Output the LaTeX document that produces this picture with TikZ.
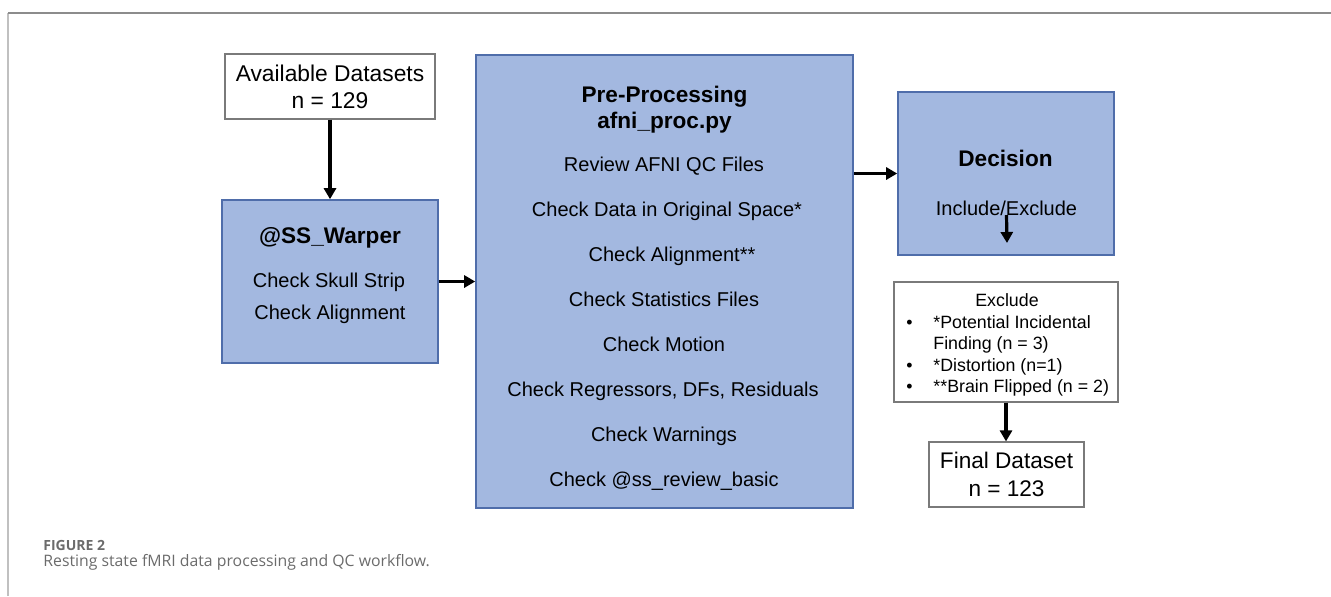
\documentclass[tikz,border=0pt]{standalone}
\usepackage{fontspec}
\setmainfont{Liberation Sans}
\newfontfamily\capfont{Open Sans}
\usepackage{tikz}
\usetikzlibrary{arrows.meta,positioning}
\definecolor{boxfill}{HTML}{A3B8E0}
\definecolor{boxline}{HTML}{4F6DAA}
\definecolor{boxgray}{HTML}{7A7A7A}
\definecolor{framegray}{HTML}{8C8C8C}
\definecolor{capgray}{HTML}{6B6B6B}

\begin{document}
\begin{tikzpicture}[x=0.5pt,y=-0.5pt,bluebox/.style={draw=boxline,fill=boxfill,line width=0.8pt,inner sep=0pt},whitebox/.style={draw=boxgray,fill=white,line width=0.6pt,inner sep=0pt,align=center},heading/.style={anchor=base,inner sep=0pt,font=\bfseries\fontsize{11.3}{13}\selectfont},check/.style={anchor=base,inner sep=0pt,font=\fontsize{10}{12}\selectfont},exclfont/.style={inner sep=0pt,font=\fontsize{8.9}{10.75}\selectfont},flow/.style={-{Triangle[length=5.5pt,width=6pt]},line width=1.6pt}]
\useasboundingbox (0,0) rectangle (1331,596);
\draw[framegray!55,line width=0.8pt] (8,596) -- (8,13);
\draw[framegray,line width=0.8pt] (8,13) -- (1331,13);
\node[whitebox,minimum width=105pt,minimum height=32.5pt,font=\fontsize{11.4}{13.5}\selectfont] (avail) at (330,86.5) {Available Datasets\\n = 129};
\node[bluebox,minimum width=108pt,minimum height=81.5pt] (warper) at (330,281.5) {};
\node[heading] (warpertitle) at (330,243) {@SS\_Warper};
\node[check] (skull) at (329,287) {Check Skull Strip};
\node[check] (warpalign) at (330,319) {Check Alignment};
\node[bluebox,minimum width=188.5pt,minimum height=226.5pt] (preproc) at (664.5,281.5) {};
\node[heading] (pptitle) at (664.5,102) {Pre-Processing};
\node[heading] (ppscript) at (664.5,128) {afni\_proc.py};
\foreach \dx/\txt [count=\i from 0] in {0/Review AFNI QC Files,3/Check Data in Original Space*,8/Check Alignment**,0/Check Statistics Files,0/Check Motion,{-1/Check Regressors, DFs, Residuals},0/Check Warnings,0/Check @ss\_review\_basic}
  \node[check] (pp\i) at ({664+\dx},{171+45*\i}) {\txt};
\node[bluebox,minimum width=108pt,minimum height=81.5pt] (decision) at (1006,173.5) {};
\node[heading] (dectitle) at (1005.5,166) {Decision};
\node[check] (incl) at (1006.5,215) {Include/Exclude};
\coordinate (inclend) at (1007,243);
\node[whitebox,minimum width=112pt,minimum height=60pt] (exclude) at (1006,342) {};
\node[exclfont,anchor=base] (exhead) at (1007,306) {Exclude};
\node[exclfont,anchor=base west] (exlist) at (906,328) {\begin{tabular}[t]{@{}p{13.5pt}@{}l@{}}\textbullet & *Potential Incidental\\ & Finding (n = 3)\\ \textbullet & *Distortion (n=1)\\ \textbullet & **Brain Flipped (n = 2)\end{tabular}};
\node[whitebox,minimum width=77.5pt,minimum height=32.5pt,font=\fontsize{11.3}{13.8}\selectfont] (final) at (1006.5,474.5) {Final Dataset\\n = 123};
\draw[flow] (avail) -- (warper);
\draw[flow] (warper) -- (preproc);
\draw[flow] (preproc.east |- decision.west) -- (decision.west);
\draw[flow] (incl.base) -- (inclend);
\draw[flow] (exclude.south) -- (exclude.south |- final.north);
\node[anchor=base west,inner sep=0pt,text=capgray,font=\capfont\bfseries\fontsize{7}{8}\selectfont] (figlabel) at (43,550) {FIGURE 2};
\node[anchor=base west,inner sep=0pt,text=capgray,font=\capfont\fontsize{7.9}{9}\selectfont] (figcaption) at (43,566) {Resting state fMRI data processing and QC workflow.};
\end{tikzpicture}
\end{document}
